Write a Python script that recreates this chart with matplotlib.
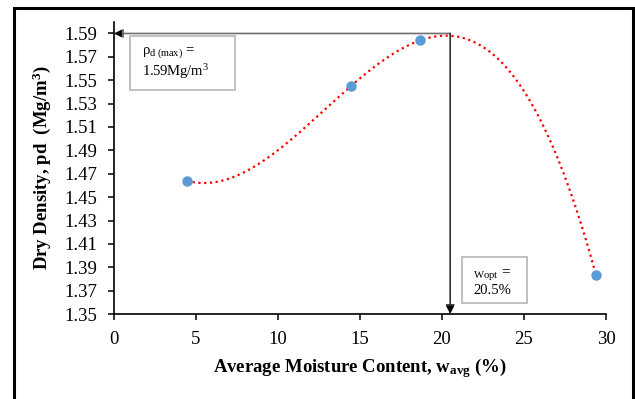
import numpy as np
import matplotlib
matplotlib.use("Agg")
import matplotlib.pyplot as plt
from matplotlib.patches import Rectangle

plt.rcParams["font.family"] = ["Liberation Serif", "DejaVu Serif"]
plt.rcParams["mathtext.fontset"] = "custom"
plt.rcParams["mathtext.rm"] = "Liberation Serif"
plt.rcParams["mathtext.it"] = "Liberation Serif:italic"
plt.rcParams["mathtext.bf"] = "Liberation Serif:bold"

# data
moisture = [4.45, 14.45, 18.65, 29.4]
density = [1.464, 1.545, 1.584, 1.383]
w_opt = 20.5
rho_max = 1.59
yticks = [1.35, 1.37, 1.39, 1.41, 1.43, 1.45, 1.47, 1.49, 1.51, 1.53, 1.55, 1.57, 1.59]
xticks = [0, 5, 10, 15, 20, 25, 30]

fig = plt.figure(figsize=(6.35, 3.99), dpi=100)
ax = fig.add_axes([0.1795, 0.213, 0.7748, 0.7324])

# outer frame
fig.patches.append(Rectangle((13.5 / 635, -0.05), (633 - 13.5) / 635, 1.05 - 8.5 / 399,
                             transform=fig.transFigure, fill=False, edgecolor="black",
                             linewidth=2.2))

# polynomial trendline (order 3)
coef = np.polyfit(moisture, density, 3)
xs = np.linspace(min(moisture), max(moisture), 300)
ax.plot(xs, np.polyval(coef, xs), color="red", linestyle=(0, (1, 1.6)), linewidth=1.6, zorder=2)
ax.plot(moisture, density, "o", color="#5b9bd5", markersize=6.5, zorder=3)

# guide arrows
ax.annotate("", xy=(0, rho_max), xytext=(w_opt, rho_max),
            arrowprops=dict(arrowstyle="-|>", color="#6f6f6f", lw=1.2,
                            mutation_scale=13, shrinkA=0, shrinkB=0), zorder=1)
ax.annotate("", xy=(w_opt, 1.35), xytext=(w_opt, rho_max),
            arrowprops=dict(arrowstyle="-|>", color="#333333", lw=1.2,
                            mutation_scale=13, shrinkA=0, shrinkB=0), zorder=1)
ax.annotate("", xy=(0.02, rho_max), xytext=(0.6, rho_max),
            arrowprops=dict(arrowstyle="-|>", color="black", lw=0.1,
                            mutation_scale=13, shrinkA=0, shrinkB=0), zorder=4)
ax.annotate("", xy=(w_opt, 1.3505), xytext=(w_opt, 1.36),
            arrowprops=dict(arrowstyle="-|>", color="black", lw=0.1,
                            mutation_scale=13, shrinkA=0, shrinkB=0), zorder=4)

# text boxes
ax.add_patch(Rectangle((0.98, 1.5416), 6.4, 0.0463, fill=False, edgecolor="#c0c0c0",
                       linewidth=1.4, zorder=1))
ax.text(1.7, 1.5735, r"$\mathrm{\rho}_{\mathrm{d\ (max)}}$ =", fontsize=10.5, va="center")
ax.text(1.7, 1.5575, r"1.59Mg/m$^{3}$", fontsize=10.5, va="center")
ax.add_patch(Rectangle((21.22, 1.359), 3.96, 0.0394, fill=False, edgecolor="#c0c0c0",
                       linewidth=1.4, zorder=1))
ax.text(21.9, 1.384, r"$_{\mathrm{Wopt}}$ =", fontsize=11, va="center")
ax.text(21.9, 1.3705, "20.5%", fontsize=10.5, va="center")

ax.set_xlim(0, 30)
ax.set_ylim(1.35, 1.60)
ax.set_xticks(xticks)
ax.set_yticks(yticks)
ax.set_yticklabels(["%.2f" % v for v in yticks])
ax.spines["top"].set_visible(False)
ax.spines["right"].set_visible(False)
for s in ["left", "bottom"]:
    ax.spines[s].set_linewidth(1.2)
ax.tick_params(direction="out", length=4, width=1.1, labelsize=13.5)
ax.tick_params(axis="x", pad=8)
ax.tick_params(axis="y", pad=8)

ax.set_xlabel(r"Average Moisture Content, w$_{\mathbf{avg}}$ (%)", fontsize=13.5,
              fontweight="bold", labelpad=6)
ax.set_ylabel("Dry Density, pd  (Mg/m$^{\\mathbf{3}}$)", fontsize=13.5, fontweight="bold",
              labelpad=8)

fig.savefig("out.png", dpi=100)
